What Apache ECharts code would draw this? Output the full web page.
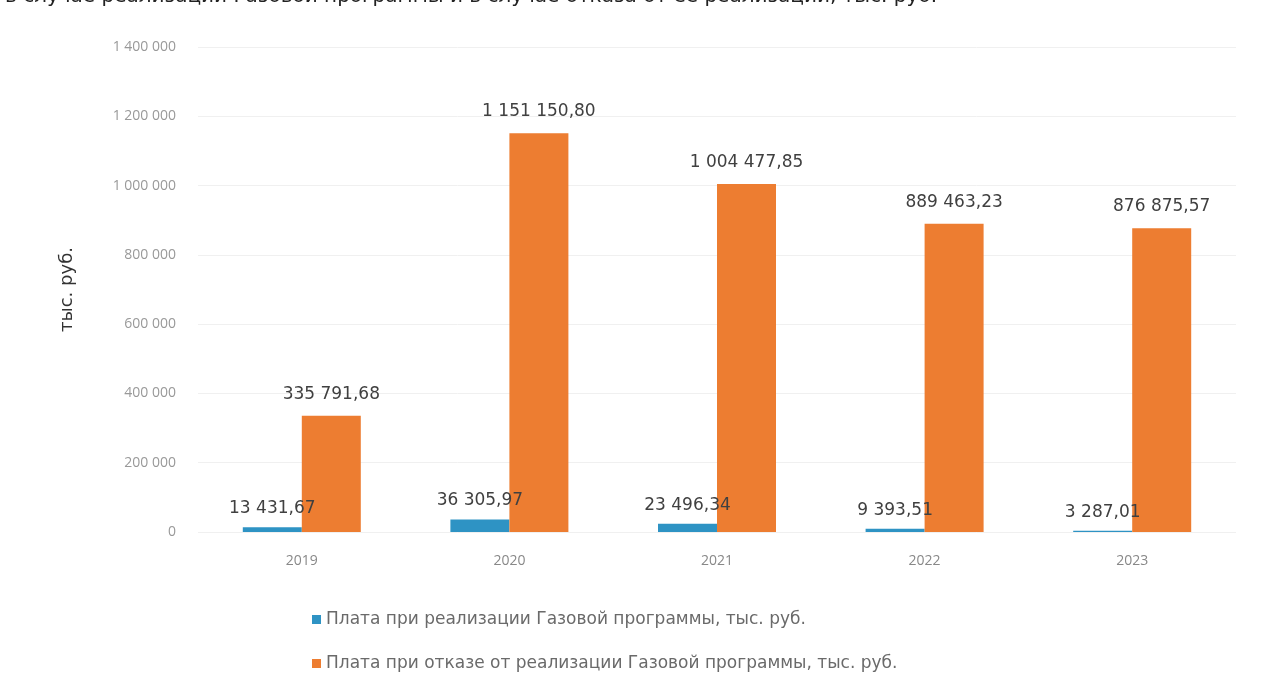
<!DOCTYPE html>
<html>
<head>
<meta charset="utf-8">
<script src="https://cdn.jsdelivr.net/npm/echarts@6/dist/echarts.min.js"></script>
<style>
    html, body { margin: 0; padding: 0; background: #fff; }
    #chart { width: 1266px; height: 686px; }
</style>
</head>
<body>
<div id="chart"></div>
<script>
    'use strict';

    // данные с картинки
    var years = ['2019', '2020', '2021', '2022', '2023'];
    var gasProgram = [13431.67, 36305.97, 23496.34, 9393.51, 3287.01];
    var gasRefusal = [335791.68, 1151150.80, 1004477.85, 889463.23, 876875.57];
    var seriesNames = [
        'Плата при реализации Газовой программы, тыс. руб.',
        'Плата при отказе от реализации Газовой программы, тыс. руб.'
    ];
    var axisName = 'тыс. руб.';
    var headText = 'в случае реализации Газовой программы и в случае отказа от ее реализации, тыс. руб.';

    // пробел как разделитель тысяч
    function groupDigits(s) {
        return s.replace(/\B(?=(\d{3})+(?!\d))/g, ' ');
    }
    function fmtValue(v) {
        var parts = v.toFixed(2).split('.');
        return groupDigits(parts[0]) + ',' + parts[1];
    }

    var chart = echarts.init(document.getElementById('chart'));
    var option = {
        backgroundColor: '#ffffff',
        animation: false,
        title: {
            text: headText,
            left: 0,
            top: -18,
            textStyle: { fontFamily: 'DejaVu Sans', fontSize: 20, fontWeight: 'normal', color: '#222' }
        },
        grid: { left: 198, right: 30, top: 47, bottom: 154 },
        legend: {
            orient: 'vertical',
            left: 307,
            top: 606,
            itemGap: 27,
            itemWidth: 9,
            itemHeight: 9,
            icon: 'rect',
            textStyle: { fontFamily: 'DejaVu Sans', fontSize: 17, color: '#6a6a6a' },
            data: seriesNames
        },
        xAxis: {
            type: 'category',
            data: years,
            axisLine: { show: false },
            axisTick: { show: false },
            axisLabel: { margin: 22, fontFamily: 'Open Sans', fontSize: 14, color: '#888' }
        },
        yAxis: {
            type: 'value',
            min: 0,
            max: 1400000,
            interval: 200000,
            name: axisName,
            nameLocation: 'middle',
            nameGap: 122,
            nameTextStyle: { fontFamily: 'DejaVu Sans', fontSize: 18, color: '#333' },
            axisLabel: {
                margin: 22,
                fontFamily: 'Open Sans',
                fontSize: 14,
                color: '#999',
                formatter: function (v) { return groupDigits(String(v)); }
            },
            splitLine: { lineStyle: { color: '#f0f0f0' } }
        },
        series: [
            {
                name: seriesNames[0],
                type: 'bar',
                data: gasProgram,
                barWidth: 59,
                barGap: '0%',
                itemStyle: { color: '#2E93C4' },
                label: {
                    show: true,
                    position: 'top',
                    distance: 10,
                    fontFamily: 'DejaVu Sans',
                    fontSize: 17,
                    color: '#404040',
                    formatter: function (p) { return fmtValue(p.value); }
                }
            },
            {
                name: seriesNames[1],
                type: 'bar',
                data: gasRefusal,
                barWidth: 59,
                barGap: '0%',
                itemStyle: { color: '#ED7D31' },
                label: {
                    show: true,
                    position: 'top',
                    distance: 13,
                    fontFamily: 'DejaVu Sans',
                    fontSize: 17,
                    color: '#404040',
                    formatter: function (p) { return fmtValue(p.value); }
                }
            }
        ]
    };
    chart.setOption(option);
</script>
</body>
</html>
